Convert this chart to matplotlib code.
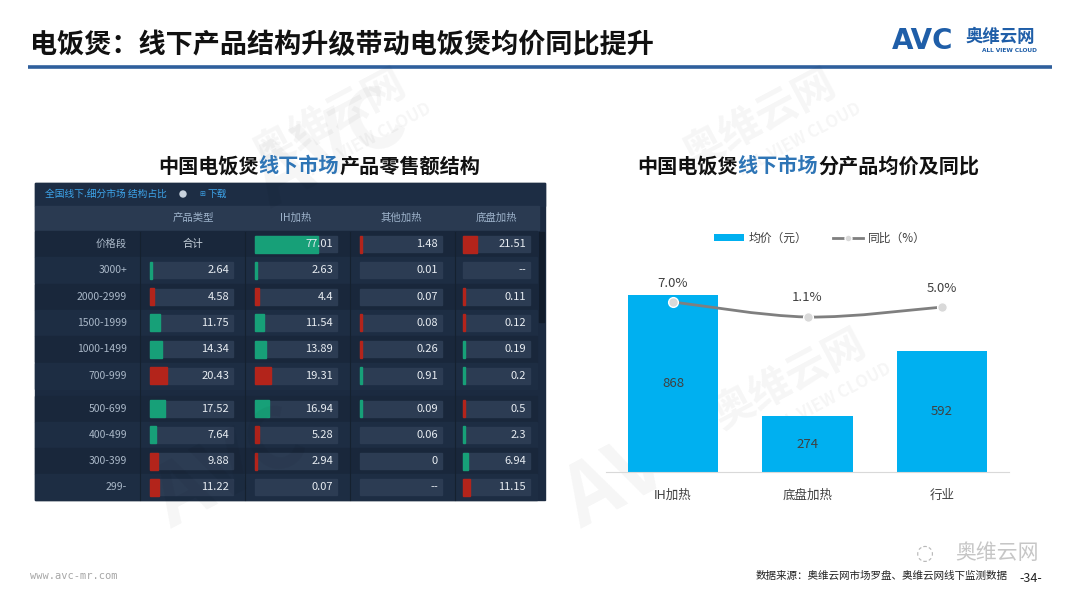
import matplotlib
matplotlib.use("Agg")
import matplotlib.pyplot as plt
from matplotlib.patches import Rectangle, Patch
from matplotlib.lines import Line2D
from matplotlib.path import Path
from matplotlib.patches import PathPatch

plt.rcParams['font.family'] = ['Noto Sans CJK SC', 'DejaVu Sans']

# ---- data: left table (retail share %, offline market) ----
col_names = ['产品类型', 'IH加热', '其他加热', '底盘加热']
row_names = ['价格段', '3000+', '2000-2999', '1500-1999', '1000-1499', '700-999',
             '500-699', '400-499', '300-399', '299-']
total_share = [None, 2.64, 4.58, 11.75, 14.34, 20.43, 17.52, 7.64, 9.88, 11.22]
ih_share = [77.01, 2.63, 4.4, 11.54, 13.89, 19.31, 16.94, 5.28, 2.94, 0.07]
other_share = [1.48, 0.01, 0.07, 0.08, 0.26, 0.91, 0.09, 0.06, 0, None]
bottom_share = [21.51, None, 0.11, 0.12, 0.19, 0.2, 0.5, 2.3, 6.94, 11.15]
# change direction shown by the bar colour: 1 up, -1 down, 0 none
total_trend = [0, 1, -1, 1, 1, -1, 1, 1, -1, -1]
ih_trend = [1, 1, -1, 1, 1, -1, 1, -1, -1, 0]
other_trend = [-1, 0, 0, -1, -1, 1, 1, 0, 0, 0]
bottom_trend = [-1, 0, -1, -1, 1, 1, -1, 1, 1, -1]

# ---- data: right chart ----
categories = ['IH加热', '底盘加热', '行业']
avg_price = [868, 274, 592]
yoy = [7.0, 1.1, 5.0]

W, H = 1080, 608
fig = plt.figure(figsize=(W / 100, H / 100), dpi=100, facecolor='white')

bg = fig.add_axes([0, 0, 1, 1])
bg.set_xlim(0, W)
bg.set_ylim(H, 0)
bg.axis('off')

# faint watermarks
for (x, y, s) in [(330, 120, '奥维云网'), (760, 120, '奥维云网'), (790, 380, '奥维云网')]:
    bg.text(x, y, s, fontsize=30, fontweight='bold', color='#000000', alpha=0.04,
            rotation=28, ha='center', va='center')
    bg.text(x + 40, y + 20, 'ALL VIEW CLOUD', fontsize=12, fontweight='bold', color='#000000',
            alpha=0.04, rotation=28, ha='center', va='center')
for (x, y) in [(640, 470), (230, 470), (330, 150)]:
    bg.text(x, y, 'AVC', fontsize=60, fontweight='bold', fontstyle='italic', color='#000000',
            alpha=0.04, rotation=28, ha='center', va='center')

# header
bg.text(30, 45, '电饭煲：线下产品结构升级带动电饭煲均价同比提升', fontsize=19.5,
        fontweight='bold', color='#111111', ha='left', va='center')
bg.plot([28, 1052], [67, 67], color='#2f5f9c', lw=2.6, solid_capstyle='butt')
bg.text(892, 41, 'AVC', fontsize=20, fontweight='heavy', color='#1f5ea8',
        ha='left', va='center', family='DejaVu Sans')
bg.text(966, 37, '奥维云网', fontsize=12.5, fontweight='bold', color='#1f5ea8',
        ha='left', va='center')
bg.text(1009, 51, 'ALL VIEW CLOUD', fontsize=4.2, fontweight='bold', color='#1f5ea8',
        ha='center', va='center', family='DejaVu Sans')

# chart titles, with the blue part in the middle
def two_tone_title(xc, y, parts):
    r = fig.canvas.get_renderer()
    widths = []
    objs = []
    for txt, col in parts:
        t = bg.text(0, y, txt, fontsize=14.5, fontweight='bold', color=col, ha='left', va='center')
        bb = t.get_window_extent(renderer=r)
        widths.append(bb.width)
        objs.append(t)
    x = xc - sum(widths) / 2
    for t, w in zip(objs, widths):
        t.set_x(x)
        x += w

two_tone_title(319, 166, [('中国电饭煲', '#111111'), ('线下市场', '#2e75b6'), ('产品零售额结构', '#111111')])
two_tone_title(808, 166, [('中国电饭煲', '#111111'), ('线下市场', '#2e75b6'), ('分产品均价及同比', '#111111')])

# ---- left table ----
tx0, tx1, ty0, ty1 = 35, 545, 183, 500
bg.add_patch(Rectangle((tx0, ty0), tx1 - tx0, ty1 - ty0, color='#1b2a40', zorder=1))
bg.add_patch(Rectangle((tx0, ty0), tx1 - tx0, 23, color='#1d2d44', zorder=1.1))
bg.add_patch(Rectangle((tx0, 206), tx1 - tx0 - 6, 24, color='#2a3a51', zorder=1.1))
bg.add_patch(Rectangle((tx1 - 6, 232), 5, 90, color='#111c2b', zorder=1.2))
bg.text(45, 194, '全国线下.细分市场 结构占比', fontsize=7, color='#3da4ea', ha='left', va='center')
bg.add_patch(plt.Circle((183, 194), 3, color='#c9d3de', zorder=2))
bg.text(199, 194, '⊞', fontsize=5, color='#3da4ea', ha='left', va='center', family='DejaVu Sans')
bg.text(208, 194, '下载', fontsize=7, color='#3da4ea', ha='left', va='center')

col_centers = [193, 296, 401, 496]
box_x = [(150, 233), (255, 337), (360, 442), (463, 530)]
for xc, name in zip(col_centers, col_names):
    bg.text(xc, 218, name, fontsize=7.5, color='#9fb4cc', ha='center', va='center')

row_y = []
y = 244
for i in range(len(row_names)):
    row_y.append(y)
    y += 33 if i == 5 else 26.3

for i, yc in enumerate(row_y):
    shade = '#19273b' if i % 2 == 0 else '#1d2d43'
    bg.add_patch(Rectangle((tx0, yc - 13), tx1 - tx0 - 8, 26, color=shade, zorder=1.15))
    bg.text(127, yc, row_names[i], fontsize=7.5, color='#aab8c8', ha='right', va='center', zorder=3)

for xs in [140, 245, 350, 455]:
    bg.plot([xs, xs], [232, 500], color='#15212f', lw=0.8, zorder=1.3)

columns = [(total_share, total_trend), (ih_share, ih_trend),
           (other_share, other_trend), (bottom_share, bottom_trend)]
for c, (vals, trend) in enumerate(columns):
    bx0, bx1 = box_x[c]
    for i, yc in enumerate(row_y):
        v = vals[i]
        if c == 0 and i == 0:
            bg.text(col_centers[0], yc, '合计', fontsize=7.5, color='#c8d2dc',
                    ha='center', va='center', zorder=3)
            continue
        bg.add_patch(Rectangle((bx0, yc - 8), bx1 - bx0, 16, color='#2c3c53', zorder=2))
        if trend[i] != 0 and v is not None:
            bw = max(v / 100 * (bx1 - bx0), 2)
            col = '#17a078' if trend[i] > 0 else '#b3241b'
            bg.add_patch(Rectangle((bx0, yc - 8.5), bw, 17, color=col, zorder=2.5))
        label = '--' if v is None else f'{v:g}'
        bg.text(bx1 - 4, yc, label, fontsize=8, color='#e8edf2', ha='right', va='center', zorder=3)

# ---- right chart ----
px_per_unit = 177 / 868
ax_top = 472 - 1200 * px_per_unit
ax = fig.add_axes([605.75 / W, (H - 472) / H, 403.5 / W, (472 - ax_top) / H])
ax.set_facecolor('none')
xs = list(range(len(categories)))
bars = ax.bar(xs, avg_price, width=0.67, color='#00b0f0', zorder=2)
ax.set_xlim(-0.5, 2.5)
ax.set_ylim(0, 1200)
for s in ['top', 'right', 'left']:
    ax.spines[s].set_visible(False)
ax.spines['bottom'].set_color('#d9d9d9')
ax.set_yticks([])
ax.set_xticks(xs)
ax.set_xticklabels(categories, fontsize=9, color='#404040')
ax.tick_params(axis='x', length=0, pad=12)
for b, v in zip(bars, avg_price):
    ax.text(b.get_x() + b.get_width() / 2, v / 2, str(v), fontsize=9.5, color='#404040',
            ha='center', va='center', zorder=3)

ax2 = ax.twinx()
ax2.set_ylim(-59.9, 36.4)
ax2.axis('off')
# smooth line through the points (Catmull-Rom converted to Bezier segments)
pts = list(zip(xs, yoy))
ext = [pts[0]] + pts + [pts[-1]]
verts = [pts[0]]
codes = [Path.MOVETO]
for k in range(1, len(ext) - 2):
    p0, p1, p2, p3 = ext[k - 1], ext[k], ext[k + 1], ext[k + 2]
    c1 = (p1[0] + (p2[0] - p0[0]) / 6, p1[1] + (p2[1] - p0[1]) / 6)
    c2 = (p2[0] - (p3[0] - p1[0]) / 6, p2[1] - (p3[1] - p1[1]) / 6)
    verts += [c1, c2, p2]
    codes += [Path.CURVE4] * 3
ax2.add_patch(PathPatch(Path(verts, codes), facecolor='none', edgecolor='#7f7f7f', lw=2, zorder=3))
ax2.plot(xs, yoy, linestyle='none', marker='o', markersize=7, markerfacecolor='#d9d9d9',
         markeredgecolor='#ffffff', markeredgewidth=1, zorder=4)
for x, v in zip(xs, yoy):
    ax2.annotate(f'{v:.1f}%', (x, v), xytext=(0, 9), textcoords='offset points',
                 fontsize=9.5, color='#404040', ha='center', va='bottom')

handles = [Patch(facecolor='#00b0f0', edgecolor='none'),
           Line2D([0], [0], color='#7f7f7f', lw=2, marker='o', markersize=5,
                  markerfacecolor='#d9d9d9', markeredgecolor='#ffffff')]
fig.legend(handles, ['均价（元）', '同比（%）'], loc='center', bbox_to_anchor=(820 / W, 1 - 238 / H),
           ncol=2, frameon=False, fontsize=8.5, handlelength=2.5, handleheight=0.6,
           columnspacing=2.2, handletextpad=0.4, labelcolor='#404040')

# footer
bg.text(30, 576, 'www.avc-mr.com', fontsize=7.5, color='#a6a6a6', ha='left', va='center',
        family='DejaVu Sans Mono')
bg.text(1008, 576, '数据来源：奥维云网市场罗盘、奥维云网线下监测数据', fontsize=7.6,
        color='#222222', ha='right', va='center')
bg.text(1031, 578, '-34-', fontsize=9, color='#222222', ha='center', va='center')
bg.text(997, 553, '奥维云网', fontsize=15, color='#b8b8b8', ha='center', va='center', alpha=0.8)
bg.text(925, 553, '◌', fontsize=15, color='#b8b8b8', ha='center', va='center', family='DejaVu Sans')

fig.savefig('out.png', dpi=100, facecolor='white')
